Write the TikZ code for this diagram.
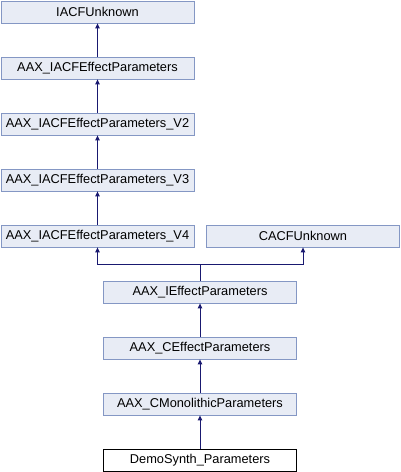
\documentclass[tikz,border=0pt]{standalone}
\usepackage{fontspec}
\setmainfont{Liberation Sans}
\usetikzlibrary{arrows.meta}
\definecolor{nodefill}{HTML}{E8ECF5}
\definecolor{nodeborder}{HTML}{8497C4}
\definecolor{edgecol}{HTML}{191970}
\begin{document}
\begin{tikzpicture}[x=1pt,y=-1pt,
  cls/.style={draw=nodeborder,fill=nodefill,line width=0.8pt,minimum width=193pt,minimum height=22pt,inner sep=0pt,font=\fontsize{12.8}{15}\selectfont},
  cur/.style={cls,draw=black,fill=white},
  inh/.style={draw=edgecol,line width=0.9pt,-{Triangle[length=5pt,width=4.5pt]}}]
\useasboundingbox (0,0) rectangle (400,472);
\node[cls] (n0) at (97.5,12) {IACFUnknown};
\node[cls] (n1) at (97.5,68) {AAX\_IACFEffectParameters};
\node[cls] (n2) at (97.5,124) {AAX\_IACFEffectParameters\_V2};
\node[cls] (n3) at (97.5,180) {AAX\_IACFEffectParameters\_V3};
\node[cls] (n4) at (97.5,236) {AAX\_IACFEffectParameters\_V4};
\node[cls] (c) at (303,236) {CACFUnknown};
\node[cls] (n5) at (200,292) {AAX\_IEffectParameters};
\node[cls] (n6) at (200,348) {AAX\_CEffectParameters};
\node[cls] (n7) at (200,404) {AAX\_CMonolithicParameters};
\node[cur] (n8) at (200,460) {DemoSynth\_Parameters};
\draw[inh] (n1) -- (n0);
\draw[inh] (n2) -- (n1);
\draw[inh] (n3) -- (n2);
\draw[inh] (n4) -- (n3);
\coordinate (j) at (200,264);
\draw[draw=edgecol,line width=0.9pt] (n5.north) -- (j);
\draw[inh] (j) -| (n4.south);
\draw[inh] (j) -| (c.south);
\draw[inh] (n6) -- (n5);
\draw[inh] (n7) -- (n6);
\draw[inh] (n8) -- (n7);
\end{tikzpicture}
\end{document}
